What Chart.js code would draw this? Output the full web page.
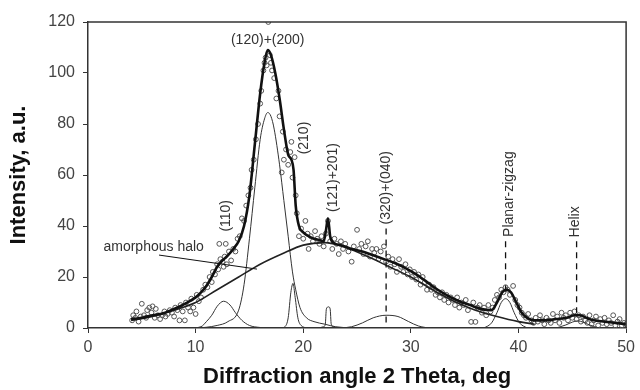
<!doctype html>
<html>
<head>
<title>Diffraction pattern</title>
<style>
	body { margin: 0; background: #fff; }
	canvas { display: block; }
</style>
<script src="https://cdn.jsdelivr.net/npm/chart.js@4.4.0/dist/chart.umd.min.js"></script>
</head>
<body>
<canvas id="xrd" width="640" height="390"></canvas>
<script>
"use strict";

// measured points (open markers)
const ptX = [4.1,4.2,4.4,4.5,4.7,4.9,5.0,5.2,5.4,5.5,5.7,5.9,6.0,6.2,6.3,6.5,6.7,6.9,7.1,7.2,7.4,7.6,7.8,8.0,8.1,8.3,8.5,8.6,8.8,9.0,9.1,9.3,9.5,9.6,9.8,10.0,10.1,10.3,
	10.5,10.7,10.9,11.1,11.3,11.5,11.6,11.8,12.0,12.1,12.2,12.3,12.5,12.6,12.7,12.8,12.9,13.1,13.3,13.5,13.7,13.9,14.1,14.3,14.5,
	14.7,14.9,15.1,15.2,15.4,15.6,15.8,16.0,16.1,16.3,16.4,16.5,16.6,16.75,16.9,17.0,17.1,17.3,17.5,17.7,17.8,18.0,18.1,18.2,18.4,18.6,18.8,18.9,19.0,19.2,19.3,19.4,
	19.6,19.8,20.0,20.2,20.4,20.5,20.7,20.9,21.1,21.3,21.5,21.7,21.9,22.1,22.3,22.5,22.7,22.9,23.1,23.3,23.5,23.7,23.9,
	24.2,24.5,24.7,25.0,25.2,25.4,25.6,25.8,26.0,26.2,26.4,26.6,26.8,27.0,27.2,27.5,27.7,27.9,28.1,28.3,28.5,28.7,28.9,29.1,29.3,29.5,29.7,29.9,
	30.1,30.3,30.5,30.7,30.9,31.1,31.3,31.5,31.7,31.9,32.1,32.3,32.5,32.7,32.9,33.1,33.3,33.5,33.7,33.9,34.1,34.3,34.5,34.7,34.9,35.1,35.3,35.6,35.8,36.0,36.2,36.4,36.6,36.8,37.0,37.2,37.4,
	37.6,37.8,38.0,38.2,38.4,38.6,38.8,39.0,39.2,39.5,39.7,39.9,40.1,40.3,40.5,40.7,40.9,
	41.2,41.4,41.6,41.8,42.0,42.2,42.4,42.6,42.8,43.0,43.2,43.4,43.6,43.8,44.0,44.2,44.4,44.6,44.8,45.0,45.2,45.4,45.6,45.8,46.0,46.2,46.4,46.6,46.8,47.0,47.2,47.4,47.6,47.8,48.0,48.2,48.4,48.6,48.8,49.0,49.2,49.4,49.6,49.8,50.0];
const ptY = [3,5,4,6.5,2.5,4.5,9.5,5,4,7,8,6,8.5,4,7.5,5,3.5,5,6.5,4.5,5.5,7,6,4.5,8,7,3,9,6.5,3,10,8,6.5,11.5,8,5.5,13,10.5,
	12,15,17,16,20,18,22,21,25,23,33,27,26,24,28,33,25,30,26.5,31,30,35,36,43,42,
	48,52,55,62,66,74,80,88,93,101,104,106,103,120,107,104,101,98,90,93,83,61,77,66,70,64,69,73,59,67,52,45,
	36,39,35,42,37,31,36,34,38,35,33,36,32,37,42,34,31,35,33,29,34,31,33,
	30,26,32,38.5,31,33,29,32,34,28,31,29.5,31,27,30,32,26,28,24,27,25,22,27,24,22,25,21,23,
	20,22,19,21,17,20,18,15,17,15,16,13,14,12,14,11,13,10,12,11,9,12,8,10,9,11,7,2.4,10,2.4,8,9,6,8,5,9,6.5,
	8,11,13,12,15,14,16,15,13,16.5,11,9,8,6,5,4,5.5,
	3,2,4,2.5,5,3,1.5,4,3,2,5.5,3,4.5,2,6,4,5,3,6,4,6.5,3.5,5,2.5,4.5,3,2,5,1.5,3,4.5,1,3.5,2,4,1.5,3,2,5,1,2.5,3.5,1,2,1.5];

// total fitted profile (thick line)
const fitX = [4,5,6,7,8,9,10,10.5,11,11.5,12,12.5,13,13.5,14,14.5,15,15.5,16,16.4,16.7,17,17.4,17.8,18.2,18.6,18.9,19.1,19.3,19.6,20,20.5,21,21.5,21.9,22.1,22.3,22.5,22.8,23.5,24.5,25.5,26.5,27.5,28.5,29.5,30.5,31.5,32.5,33.5,34.5,35.5,36.5,37.5,38,38.5,38.9,39.3,39.8,40.3,40.8,41.5,42.5,43.5,44.5,45.2,45.7,46.3,47,48,49,50];
const fitY = [3.5,4,5,5.8,7.5,9.5,12,14,16.5,20,24,26.5,28.5,31,34,40,52,72,92,104,109,107,100,90,78,68,66,62,48,40,37.5,36,35,34.5,34,38,43,36,33.5,32.5,31,30,28.5,27,25.5,23.5,21,18,15,12.5,10.5,9,7.5,7,10,14,15,14,10,6,4,3,3,3.5,4,5,5,4,3,2.5,2,1.5];

// amorphous halo
const haloX = [4,6,8,10,12,14,16,18,20,22,24,26,28,30,32,34,36,38,40,41.5];
const haloY = [3,4.5,7,10,15,20,25,29,32.5,33.5,31.5,28,24,20,15,10.5,7,4.5,2.5,1.5];

// crystalline reflections
const p110X = [9.5,10.5,11,11.5,12,12.6,13.2,13.7,14.3,15,16,16.8];
const p110Y = [0,0.5,2.5,5,8.5,10.5,9,6,3,1,0.2,0];
const p120X = [9,10,11,12,13,14,14.5,15,15.5,16,16.4,16.7,17,17.3,17.8,18.2,18.6,19,19.3,19.7,20.3,21,22,23,24.5];
const p120Y = [0,0,0.3,1,2.5,7,17,35,55,74,82,84.5,83,78,64,50,36,22,15,8,4,2.5,1.5,0.5,0];
const p210X = [18.0,18.3,18.6,18.85,19.05,19.25,19.5,19.8,20.4];
const p210Y = [0,0.5,4,14,17.5,12,4,1,0];
const p121X = [21.3,21.9,22.05,22.15,22.35,22.5,22.6,22.8,23.4];
const p121Y = [0,0.5,1.5,7.5,8.3,7.5,1.5,0.5,0];
const p320X = [23.5,24.5,25.5,26.5,27.7,28.8,29.8,30.7,32,33.5];
const p320Y = [0,0.5,2,4,5,4.5,2.5,0.8,0,0];
const pZigX = [36.8,37.5,38,38.4,38.8,39.2,39.6,40.1,40.8];
const pZigY = [0,2,6,10,11.5,10,6,2,0];
const pHelX = [43.5,44.4,45,45.5,46,46.6,47.5];
const pHelY = [0,1.2,2.3,2.8,2.3,1.2,0];

// axis ticks
const xTicks = [0, 10, 20, 30, 40, 50];
const yTicks = [0, 20, 40, 60, 80, 100, 120];

// peak labels (data coords), rotated ones read bottom-to-top
const labText = ["(120)+(200)", "(110)", "(210)", "(121)+201)", "(320)+(040)", "Planar-zigzag", "Helix", "amorphous halo"];
const labX = [16.7, 12.8, 20.05, 22.8, 27.7, 39.1, 45.3, 6.1];
const labY = [113, 44, 74.5, 59, 55, 52.5, 41.6, 31.8];
const labRot = [false, true, true, true, true, true, true, false];

// dashed markers
const dashX = [27.7, 38.8, 45.4];
const dashTop = [39, 34, 34];
const dashBottom = [1, 14, 6];

// leader for amorphous halo
const leadX = [6.6, 15.7];
const leadY = [28.6, 23.1];

const pts = (xs, ys) => xs.map((x, i) => ({x: x, y: ys[i]}));

function curve(xs, ys, width, color, order) {
	return {
		type: 'line',
		data: pts(xs, ys),
		borderColor: color,
		borderWidth: width,
		pointRadius: 0,
		fill: false,
		tension: 0.35,
		cubicInterpolationMode: 'monotone',
		order: order
	};
}

const annotate = {
	id: 'annotate',
	afterDatasetsDraw(chart) {
		const ctx = chart.ctx;
		const a = chart.chartArea;
		const sx = chart.scales.x, sy = chart.scales.y;
		ctx.save();
		// frame on top and right
		ctx.strokeStyle = '#333';
		ctx.lineWidth = 1.5;
		ctx.beginPath();
		ctx.moveTo(a.left, a.top);
		ctx.lineTo(a.right, a.top);
		ctx.lineTo(a.right, a.bottom);
		ctx.stroke();

		ctx.strokeStyle = '#111';
		ctx.lineWidth = 1.3;
		ctx.setLineDash([6, 5]);
		dashX.forEach((v, i) => {
			const px = sx.getPixelForValue(v);
			ctx.beginPath();
			ctx.moveTo(px, sy.getPixelForValue(dashTop[i]));
			ctx.lineTo(px, sy.getPixelForValue(dashBottom[i]));
			ctx.stroke();
		});
		ctx.setLineDash([]);

		ctx.lineWidth = 1;
		ctx.beginPath();
		ctx.moveTo(sx.getPixelForValue(leadX[0]), sy.getPixelForValue(leadY[0]));
		ctx.lineTo(sx.getPixelForValue(leadX[1]), sy.getPixelForValue(leadY[1]));
		ctx.stroke();

		ctx.fillStyle = '#333';
		ctx.font = '14px Arial, "Liberation Sans", sans-serif';
		ctx.textAlign = 'center';
		ctx.textBaseline = 'middle';
		labText.forEach((t, i) => {
			ctx.save();
			ctx.translate(sx.getPixelForValue(labX[i]), sy.getPixelForValue(labY[i]));
			if (labRot[i]) ctx.rotate(-Math.PI / 2);
			ctx.fillText(t, 0, 0);
			ctx.restore();
		});
		ctx.restore();
	}
};

const tickFont = {family: 'Arial, "Liberation Sans", sans-serif', size: 16};
const xTitleFont = {family: 'Arial, "Liberation Sans", sans-serif', size: 22, weight: 'bold'};
const yTitleFont = {family: 'Arial, "Liberation Sans", sans-serif', size: 22, weight: 'bold'};

new Chart(document.getElementById('xrd'), {
	type: 'scatter',
	data: {
		datasets: [
			curve(fitX, fitY, 2.6, '#111', 0),
			curve(haloX, haloY, 1.6, '#222', 1),
			curve(p110X, p110Y, 1, '#333', 2),
			curve(p120X, p120Y, 1, '#333', 2),
			curve(p210X, p210Y, 1, '#333', 2),
			curve(p121X, p121Y, 1, '#333', 2),
			curve(p320X, p320Y, 1, '#333', 2),
			curve(pZigX, pZigY, 1, '#333', 2),
			curve(pHelX, pHelY, 1, '#333', 2),
			{
				data: pts(ptX, ptY),
				pointStyle: 'circle',
				pointRadius: 2.4,
				borderWidth: 1,
				borderColor: '#555',
				backgroundColor: 'rgba(255,255,255,0)',
				order: 5
			}
		]
	},
	options: {
		responsive: false,
		animation: false,
		layout: {padding: {top: 22, right: 11, left: 0, bottom: 0}},
		plugins: {legend: {display: false}, tooltip: {enabled: false}},
		scales: {
			x: {
				type: 'linear',
				min: 0, max: 50,
				afterFit: s => { s.height = 62; },
				afterBuildTicks: s => { s.ticks = xTicks.map(v => ({value: v})); },
				grid: {display: true, drawOnChartArea: false, drawTicks: true, tickLength: 5, color: '#333'},
				border: {display: true, color: '#333', width: 1.5},
				ticks: {font: tickFont, color: '#444', padding: 5, maxRotation: 0},
				title: {display: true, text: 'Diffraction angle 2 Theta, deg', font: xTitleFont, color: '#111', padding: {top: 0, bottom: 0}}
			},
			y: {
				type: 'linear',
				min: 0, max: 120,
				afterFit: s => { s.width = 88; },
				afterBuildTicks: s => { s.ticks = yTicks.map(v => ({value: v})); },
				grid: {display: true, drawOnChartArea: false, drawTicks: true, tickLength: 5, color: '#333'},
				border: {display: true, color: '#333', width: 1.5},
				ticks: {font: tickFont, color: '#444', padding: 8},
				title: {display: true, text: 'Intensity, a.u.', font: yTitleFont, color: '#111', padding: {top: 6, bottom: 0}}
			}
		}
	},
	plugins: [annotate]
});
</script>
</body>
</html>
